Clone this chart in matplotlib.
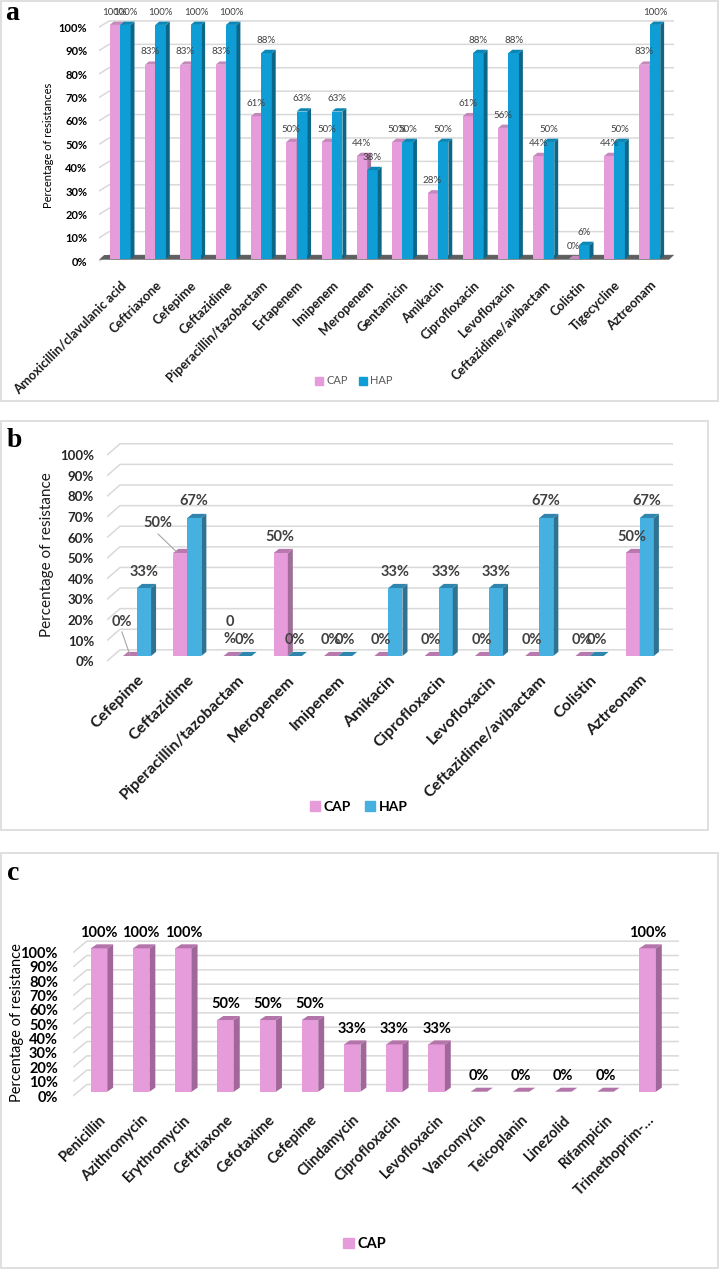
import numpy as np
import matplotlib.pyplot as plt
from matplotlib.patches import Polygon, Patch, Rectangle

plt.rcParams['font.family'] = ['Lato', 'DejaVu Sans']

W, H = 721, 1270

# panel a
drugs_a = ['Amoxicillin/clavulanic acid', 'Ceftriaxone', 'Cefepime', 'Ceftazidime',
           'Piperacillin/tazobactam', 'Ertapenem', 'Imipenem', 'Meropenem', 'Gentamicin',
           'Amikacin', 'Ciprofloxacin', 'Levofloxacin', 'Ceftazidime/avibactam',
           'Colistin', 'Tigecycline', 'Aztreonam']
cap_a = [100, 83, 83, 83, 61, 50, 50, 44, 50, 28, 61, 56, 44, 0, 44, 83]
hap_a = [100, 100, 100, 100, 88, 63, 63, 38, 50, 50, 88, 88, 50, 6, 50, 100]

# panel b
drugs_b = ['Cefepime', 'Ceftazidime', 'Piperacillin/tazobactam', 'Meropenem', 'Imipenem',
           'Amikacin', 'Ciprofloxacin', 'Levofloxacin', 'Ceftazidime/avibactam',
           'Colistin', 'Aztreonam']
cap_b = [0, 50, 0, 50, 0, 0, 0, 0, 0, 0, 50]
hap_b = [33, 67, 0, 0, 0, 33, 33, 33, 67, 0, 67]

# panel c
drugs_c = ['Penicillin', 'Azithromycin', 'Erythromycin', 'Ceftriaxone', 'Cefotaxime',
           'Cefepime', 'Clindamycin', 'Ciprofloxacin', 'Levofloxacin', 'Vancomycin',
           'Teicoplanin', 'Linezolid', 'Rifampicin', 'Trimethoprim-…']
cap_c = [100, 100, 100, 50, 50, 50, 33, 33, 33, 0, 0, 0, 0, 100]

ticks = np.arange(0, 101, 10)

fig = plt.figure(figsize=(W / 100, H / 100), dpi=100)


def px_axes(x0, x1, y0, y1):
    ax = fig.add_axes([x0 / W, 1 - y1 / H, (x1 - x0) / W, (y1 - y0) / H])
    for s in ax.spines.values():
        s.set_visible(False)
    ax.tick_params(length=0)
    return ax


def bar3d(ax, xs, hs, w, dx, dy, front, top, side):
    ax.bar(xs, hs, w, align='edge', color=front, linewidth=0, zorder=3)
    for x, h in zip(xs, hs):
        x1 = x + w
        ax.add_patch(Polygon([(x1, 0), (x1 + dx, dy), (x1 + dx, h + dy), (x1, h)],
                             fc=side, ec='none', zorder=3))
        ax.add_patch(Polygon([(x, h), (x1, h), (x1 + dx, h + dy), (x + dx, h + dy)],
                             fc=top, ec='none', zorder=3))


def grid3d(ax, xl, xb, xr, front, back):
    for t in ticks:
        ax.plot([xl, xb, xr], [t + front, t + back, t + back],
                color='#d9d9d9', lw=1.1, zorder=1, solid_capstyle='butt')


def frame(x0, y0, x1, y1):
    fig.patches.append(Rectangle((x0 / W, 1 - y1 / H), (x1 - x0) / W, (y1 - y0) / H,
                                 transform=fig.transFigure, fill=False,
                                 ec='#d9d9d9', lw=1.2))


pink, pink_top, pink_side = '#e69cdb', '#c488bb', '#a9729f'

# ---------------- panel a ----------------
frame(1, 1, 718, 401)
ax = px_axes(99, 674, 20, 265)
ax.set_xlim(-0.595, 15.69)
ax.set_ylim(-2.56, 102.1)
xa = np.arange(len(drugs_a))
grid3d(ax, -0.595, -0.31, 15.69, -1, 1.7)
ax.add_patch(Polygon([(-0.595, -0.3), (15.55, -0.3), (15.69, 1.7), (-0.45, 1.7)],
                     fc='#5f5f5f', ec='none', zorder=2))
bar3d(ax, xa - 0.29, cap_a, 0.29, 0.11, 1.4, pink, pink_top, pink_side)
bar3d(ax, xa, hap_a, 0.30, 0.11, 1.4, '#0f9dd5', '#0c86b5', '#0b6688')
for i in xa:
    ax.text(i - 0.15, cap_a[i] + 5.5, f'{cap_a[i]}%', ha='center', va='center',
            fontsize=7, color='#404040', zorder=5)
    ax.text(i + 0.15, hap_a[i] + 5.5, f'{hap_a[i]}%', ha='center', va='center',
            fontsize=7, color='#404040', zorder=5)
ax.set_yticks(ticks - 1, [f'{t}%' for t in ticks], fontsize=8, fontweight='bold')
ax.tick_params(axis='y', pad=8.5)
ax.set_xticks(xa, drugs_a, rotation=45, ha='right', rotation_mode='anchor',
              fontsize=9.3, fontweight='bold', color='#1a1a1a')
ax.tick_params(axis='x', pad=10)
fig.text(49 / W, 1 - 145 / H, 'Percentage of resistances', rotation=90,
         ha='center', va='center', fontsize=8)
fig.text(12 / W, 1 - 14 / H, 'a', family='Liberation Serif', fontweight='bold',
         fontsize=20, ha='center', va='center')
fig.legend(handles=[Patch(color=pink, label='CAP'), Patch(color='#0f9dd5', label='HAP')],
           loc='center', bbox_to_anchor=(354 / W, 1 - 381 / H), ncol=2, frameon=False,
           fontsize=8, labelcolor='#595959', handlelength=0.7, handleheight=0.7,
           handletextpad=0.3, columnspacing=1.0)

# ---------------- panel b ----------------
frame(1, 421, 708, 830)
ax = px_axes(107, 675, 440, 662)
ax.set_xlim(-0.596, 10.70)
ax.set_ylim(-2.91, 104.85)
xb = np.arange(len(drugs_b))
grid3d(ax, -0.596, -0.338, 10.66, -2.5, 3)
bar3d(ax, xb - 0.28, cap_b, 0.28, 0.1, 2.0, pink, '#b87aae', '#a06f98')
bar3d(ax, xb, hap_b, 0.28, 0.1, 2.0, '#46b0e1', '#2e86ae', '#2f7391')
lab_b = dict(ha='center', va='center', fontsize=10.5, fontweight='bold',
             color='#404040', zorder=5)
for i in xb:
    if i == 0:
        ax.text(i - 0.3, cap_b[i] + 16.5, f'{cap_b[i]}%', **lab_b)
        ax.plot([i - 0.30, i - 0.14], [11.7, 0.5], color='#a6a6a6', lw=0.8, zorder=4)
    elif i == 1:
        ax.text(i - 0.58, cap_b[i] + 14.6, f'{cap_b[i]}%', **lab_b)
        ax.plot([i - 0.58, i - 0.21], [59.2, 50.5], color='#a6a6a6', lw=0.8, zorder=4)
    elif i == 2:
        ax.text(i - 0.15, cap_b[i] + 12.4, f'{cap_b[i]}\n%', linespacing=1.3, **lab_b)
    else:
        ax.text(i - 0.15, cap_b[i] + 8, f'{cap_b[i]}%', **lab_b)
    ax.text(i + 0.14, hap_b[i] + 8, f'{hap_b[i]}%', **lab_b)
ax.set_yticks(ticks - 2.5, [f'{t}%' for t in ticks], fontsize=9.5, fontweight='bold',
              color='#262626')
ax.tick_params(axis='y', pad=9.4)
ax.set_xticks(xb, drugs_b, rotation=45, ha='right', rotation_mode='anchor',
              fontsize=11.5, fontweight='bold', color='#1a1a1a')
ax.tick_params(axis='x', pad=8)
fig.text(47 / W, 1 - 555 / H, 'Percentage of resistance', rotation=90,
         ha='center', va='center', fontsize=11, color='#1a1a1a')
fig.text(14 / W, 1 - 440 / H, 'b', family='Liberation Serif', fontweight='bold',
         fontsize=20, ha='center', va='center')
fig.legend(handles=[Patch(color=pink, label='CAP'), Patch(color='#46b0e1', label='HAP')],
           loc='center', bbox_to_anchor=(359 / W, 1 - 807 / H), ncol=2, frameon=False,
           prop={'size': 10, 'weight': 'bold'}, handlelength=0.7, handleheight=0.7,
           handletextpad=0.3, columnspacing=1.0)

# ---------------- panel c ----------------
frame(1, 853, 718, 1268)
ax = px_axes(73, 681, 935, 1098)
ax.set_xlim(-0.616, 13.79)
ax.set_ylim(-4.39, 109.3)
xc = np.arange(len(drugs_c))
grid3d(ax, -0.616, -0.29, 13.74, -3, 5)
bar3d(ax, xc - 0.195, cap_c, 0.39, 0.14, 2.8, pink, '#b374aa', '#a2679a')
for i in xc:
    ax.text(i, cap_c[i] + 11, f'{cap_c[i]}%', ha='center', va='center',
            fontsize=10.5, fontweight='bold', color='black', zorder=5)
ax.set_yticks(ticks - 3, [f'{t}%' for t in ticks], fontsize=10.5, fontweight='bold')
ax.tick_params(axis='y', pad=10.8)
ax.set_xticks(xc, drugs_c, rotation=45, ha='right', rotation_mode='anchor',
              fontsize=10.5, fontweight='bold', color='#1a1a1a')
ax.tick_params(axis='x', pad=10.5)
fig.text(17 / W, 1 - 1023 / H, 'Percentage of resistance', rotation=90,
         ha='center', va='center', fontsize=10.5)
fig.text(13 / W, 1 - 873 / H, 'c', family='Liberation Serif', fontweight='bold',
         fontsize=20, ha='center', va='center')
fig.legend(handles=[Patch(color=pink, label='CAP')],
           loc='center', bbox_to_anchor=(365 / W, 1 - 1244 / H), frameon=False,
           prop={'size': 10.5, 'weight': 'bold'}, handlelength=0.7, handleheight=0.7,
           handletextpad=0.3)

fig.savefig('out.png', dpi=100)
